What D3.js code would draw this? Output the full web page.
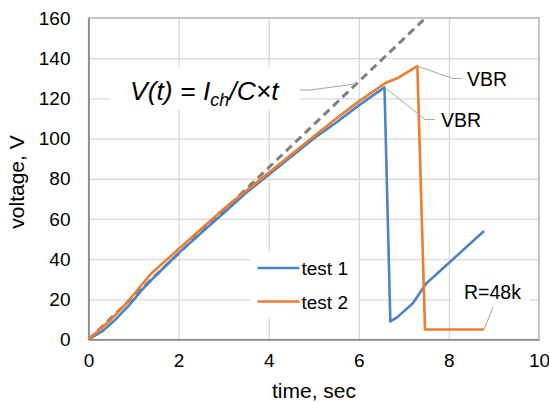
<!DOCTYPE html>
<html>
<head>
<meta charset="utf-8">
<script src="https://cdn.jsdelivr.net/npm/d3@7"></script>
<style>
  body { margin: 0; background: #fff; }
  svg { font-family: Arial, "Liberation Sans", sans-serif; }
</style>
</head>
<body>
<svg id="viz" width="549" height="403"></svg>
<script>
(function () {
  "use strict";

  // time, sec / voltage, V
  const test1 = [[0,0],[0.3,4],[0.6,10],[0.9,17],[1.2,25],[1.5,32],[2,43],[2.5,53],[3,63],[3.5,73],[4,82],
    [4.5,91],[5,100],[5.5,108],[6,116.5],[6.57,125.5],[6.7,9],[6.85,11],[7.2,18],[7.5,28],[7.65,31],[8.78,54]];
  const test2 = [[0,0],[0.2,4],[0.5,10],[0.8,17],[1.1,25],[1.4,33],[1.7,39],[2,45],[2.5,55],[3,65],[3.5,74],
    [4,83],[4.5,92],[5,101],[5.5,110],[6,118.5],[6.6,127.8],[6.85,130],[7.3,136],[7.47,5],[8.78,5]];
  const theory = [[0,0],[7.48,160]];

  const xTicks = [0, 2, 4, 6, 8, 10];
  const yTicks = [0, 20, 40, 60, 80, 100, 120, 140, 160];
  const seriesNames = ["test 1", "test 2"];

  /*
  | Layout
  */
  let margin = { top: 18, left: 88.5, right: 10, bottom: 63.5 };
  let width = 549 - margin.left - margin.right;
  let height = 403 - margin.top - margin.bottom;

  let x = d3.scaleLinear().domain([0, 10]).range([0, width]);
  let y = d3.scaleLinear().domain([0, 160]).range([height, 0]);

  let color = d3.scaleOrdinal().domain(seriesNames).range(["#4a84c6", "#ed7d31"]);

  let svg = d3.select("#viz");
  let g = svg.append("g").attr("transform", `translate(${margin.left},${margin.top})`);

  /*
  | Grid
  */
  g.append("g")
    .attr("class", "grid")
    .call(d3.axisLeft(y).tickValues(yTicks.slice(1, -1)).tickSize(-width).tickFormat(""))
    .call(s => s.select(".domain").remove())
    .selectAll("line").attr("stroke", "#d9d9d9").attr("stroke-width", 1.3);

  g.append("g")
    .attr("class", "grid")
    .attr("transform", `translate(0,${height})`)
    .call(d3.axisBottom(x).tickValues(xTicks.slice(1, -1)).tickSize(-height).tickFormat(""))
    .call(s => s.select(".domain").remove())
    .selectAll("line").attr("stroke", "#d9d9d9").attr("stroke-width", 1.3);

  // plot border
  g.append("rect")
    .attr("width", width).attr("height", height)
    .attr("fill", "none").attr("stroke", "#a6a6a6").attr("stroke-width", 1.3);

  // white label boxes over the grid
  let boxes = [
    { x: 110, y: 67, w: 190, h: 43 },   // formula
    { x: 250, y: 252, w: 108, h: 66 },  // legend
    { x: 452, y: 279, w: 78, h: 26 }    // R=48k
  ];
  svg.selectAll(".box").data(boxes).enter().append("rect")
    .attr("x", d => d.x).attr("y", d => d.y)
    .attr("width", d => d.w).attr("height", d => d.h)
    .attr("fill", "#fff");

  /*
  | Axes
  */
  let xAxis = g.append("g")
    .attr("transform", `translate(0,${height})`)
    .call(d3.axisBottom(x).tickValues(xTicks).tickSize(0).tickPadding(14));
  xAxis.select(".domain").attr("stroke", "#868686").attr("stroke-width", 1.6);
  xAxis.selectAll("text").attr("font-size", 19).attr("fill", "#000").attr("font-family", "Arial, 'Liberation Sans', sans-serif");

  let yAxis = g.append("g")
    .call(d3.axisLeft(y).tickValues(yTicks).tickSize(0).tickPadding(18));
  yAxis.select(".domain").attr("stroke", "#868686").attr("stroke-width", 1.6);
  yAxis.selectAll("text").attr("font-size", 19).attr("fill", "#000").attr("font-family", "Arial, 'Liberation Sans', sans-serif");

  svg.append("text")
    .attr("x", 314).attr("y", 398)
    .attr("text-anchor", "middle").attr("font-size", 21)
    .text("time, sec");

  svg.append("text")
    .attr("transform", "translate(24,182) rotate(-90)")
    .attr("text-anchor", "middle").attr("font-size", 21)
    .text("voltage, V");

  /*
  | Series
  */
  let line = d3.line().x(d => x(d[0])).y(d => y(d[1]));

  g.append("path").datum(theory)
    .attr("d", line).attr("fill", "none")
    .attr("stroke", "#7f7f7f").attr("stroke-width", 3)
    .attr("stroke-dasharray", "8,5");

  [test1, test2].forEach((data, i) => {
    g.append("path").datum(data)
      .attr("d", line).attr("fill", "none")
      .attr("stroke", color(seriesNames[i])).attr("stroke-width", 2.6)
      .attr("stroke-linejoin", "round");
  });

  /*
  | Legend
  */
  let legend = svg.append("g").selectAll(".leg").data(seriesNames).enter().append("g")
    .attr("transform", (d, i) => `translate(257.5,${268 + i * 33.5})`);
  legend.append("line")
    .attr("x1", 0).attr("x2", 42)
    .attr("stroke", d => color(d)).attr("stroke-width", 2.6);
  legend.append("text")
    .attr("x", 44).attr("y", 7).attr("font-size", 19)
    .text(d => d);

  /*
  | Annotations
  */
  let lead = svg.append("g").attr("fill", "none").attr("stroke", "#a6a6a6").attr("stroke-width", 1);
  let pt = (t, v) => [margin.left + x(t), margin.top + y(v)];

  // formula leader to dashed line
  let pd = pt(5.95, 5.95 * 160 / 7.48);
  lead.append("polyline").attr("points", `300,90 310,90 ${pd[0]},${pd[1]}`);
  // VBR test 2
  let p2 = pt(7.3, 136);
  lead.append("polyline").attr("points", `${p2[0]},${p2[1]} 453,78.5 462,78.5`);
  // VBR test 1
  let p1 = pt(6.57, 125.5);
  lead.append("polyline").attr("points", `${p1[0]},${p1[1]} 425,119.5 435,119.5`);
  // R=48k
  let pr = pt(8.78, 5);
  lead.append("polyline").attr("points", `${pr[0]},${pr[1]} 493,307`);

  svg.append("text").attr("x", 467).attr("y", 85.5).attr("font-size", 19.5).text("VBR");
  svg.append("text").attr("x", 441).attr("y", 127).attr("font-size", 19.5).text("VBR");
  svg.append("text").attr("x", 464).attr("y", 299).attr("font-size", 19.5).text("R=48k");

  let f = svg.append("text").attr("x", 130).attr("y", 99.5)
    .attr("font-size", 26.5).attr("font-style", "italic");
  f.append("tspan").text("V(t) = I");
  f.append("tspan").attr("dy", 6).attr("font-size", 18).text("ch");
  f.append("tspan").attr("dy", -6).text("/C×t");
})();
</script>
</body>
</html>
